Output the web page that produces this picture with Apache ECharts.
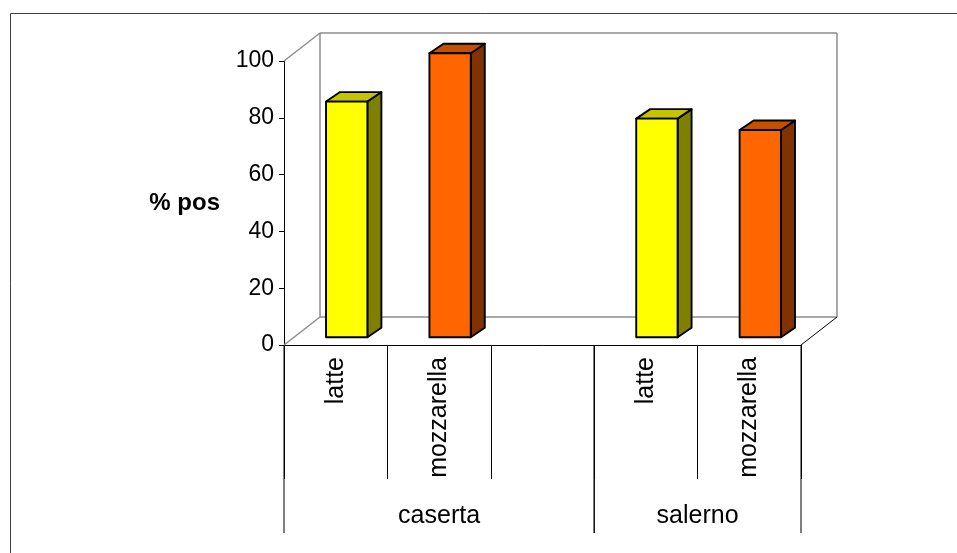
<!DOCTYPE html>
<html>
<head>
<meta charset="utf-8">
<script src="https://cdn.jsdelivr.net/npm/echarts@6/dist/echarts.min.js"></script>
<style>
html,body{margin:0;padding:0;background:#fff;}
#c{width:957px;height:553px;}
</style>
</head>
<body>
<div id="c"></div>
<script>
// ---- data ----
const categories = ['latte', 'mozzarella', '', 'latte', 'mozzarella'];
const values = [83, 100, null, 77, 73];
const groups = ['caserta', 'salerno'];
const groupStart = [0, 3];
const groupEnd = [2, 4];
const yTicks = [0, 20, 40, 60, 80, 100];

// ---- style ----
const FONT = '"Liberation Sans", Arial, sans-serif';
const DX = 36, DY = 28;            // depth of the 3D box
const BOFFX = 11, BOFFY = 7.7;     // bar front-face depth offset
const BDX = 14, BDY = 9.5;         // bar depth
const palette = {
  latte: { front: '#FFFF00', side: '#808000', top: '#C4C400' },
  mozzarella: { front: '#FF6600', side: '#803300', top: '#C45000' }
};

const chart = echarts.init(document.getElementById('c'), null, { renderer: 'canvas' });

const barData = [];
values.forEach((v, i) => { if (v != null) barData.push([i, v]); });

function wallItem(params, api) {
  const bw = api.size([1, 0])[0];
  const left = api.coord([0, 0])[0] - bw / 2;
  const right = api.coord([categories.length - 1, 0])[0] + bw / 2;
  const y0 = api.coord([0, yTicks[0]])[1];
  const y1 = api.coord([0, yTicks[yTicks.length - 1]])[1];
  const gray = { stroke: '#8c8c8c', lineWidth: 1.5, fill: null };
  const L = (x1, ya, x2, yb, st) => ({ type: 'line', shape: { x1: x1, y1: ya, x2: x2, y2: yb }, style: st || gray });
  return {
    type: 'group',
    children: [
      L(left, y1, left + DX, y1 - DY),
      L(left + DX, y1 - DY, right + DX, y1 - DY),
      L(left + DX, y1 - DY, left + DX, y0 - DY),
      L(right + DX, y1 - DY, right + DX, y0 - DY),
      L(left + DX, y0 - DY, right + DX, y0 - DY),
      L(left, y0, left + DX, y0 - DY),
      L(right, y0, right + DX, y0 - DY, { stroke: '#000', lineWidth: 1, fill: null })
    ]
  };
}

function barItem(params, api) {
  const cat = api.value(0), val = api.value(1);
  const base = api.coord([cat, 0]);
  const top = api.coord([cat, val]);
  const w = api.size([1, 0])[0] * 0.4;
  const x0 = base[0] + BOFFX - w / 2, x1 = x0 + w;
  const yb = base[1] - BOFFY, yt = top[1] - BOFFY;
  const col = palette[categories[cat]];
  const edge = { stroke: '#000', lineWidth: 1.9, lineJoin: 'round' };
  return {
    type: 'group',
    children: [
      { type: 'polygon', shape: { points: [[x1, yb], [x1 + BDX, yb - BDY], [x1 + BDX, yt - BDY], [x1, yt]] },
        style: Object.assign({ fill: col.side }, edge) },
      { type: 'polygon', shape: { points: [[x0, yt], [x1, yt], [x1 + BDX, yt - BDY], [x0 + BDX, yt - BDY]] },
        style: Object.assign({ fill: col.top }, edge) },
      { type: 'rect', shape: { x: x0, y: yt, width: w, height: yb - yt },
        style: Object.assign({ fill: col.front }, edge) }
    ]
  };
}

function groupItem(params, api) {
  const g = params.dataIndex;
  const bw = api.size([1, 0])[0];
  const xa = api.coord([groupStart[g], 0])[0] - bw / 2;
  const xb = api.coord([groupEnd[g], 0])[0] + bw / 2;
  const y0 = api.coord([0, 0])[1];
  const ln = { stroke: '#000', lineWidth: 1, fill: null };
  return {
    type: 'group',
    children: [
      { type: 'line', shape: { x1: xa, y1: y0, x2: xa, y2: y0 + 188 }, style: ln },
      { type: 'line', shape: { x1: xb, y1: y0, x2: xb, y2: y0 + 188 }, style: ln },
      { type: 'text', x: (xa + xb) / 2, y: y0 + 171,
        style: { text: groups[g], fill: '#000', font: '25px ' + FONT, align: 'center', verticalAlign: 'middle' } }
    ]
  };
}

chart.setOption({
  animation: false,
  backgroundColor: '#fff',
  graphic: [{
    type: 'rect', left: 8, top: 11, silent: true,
    shape: { x: 0.5, y: 0.5, width: 980, height: 580 },
    style: { fill: null, stroke: '#404040', lineWidth: 1 }
  }],
  grid: { left: 284, right: 156, top: 61, bottom: 208, containLabel: false },
  xAxis: {
    type: 'category',
    data: categories,
    boundaryGap: true,
    axisLine: { show: true, lineStyle: { color: '#000', width: 1 } },
    axisTick: { show: true, interval: 0, length: 134, lineStyle: { color: '#000', width: 1 } },
    axisLabel: { interval: 0, rotate: 90, margin: 12, color: '#000', fontSize: 25, fontFamily: FONT },
    splitLine: { show: false }
  },
  yAxis: {
    type: 'value',
    min: yTicks[0], max: yTicks[yTicks.length - 1], interval: 20,
    name: '% pos',
    nameLocation: 'middle',
    nameRotate: 0,
    nameGap: 64,
    nameTextStyle: { color: '#000', fontSize: 24, fontWeight: 'bold', fontFamily: FONT, padding: [4, 0, 0, 0] },
    axisLine: { show: true, lineStyle: { color: '#000', width: 1 } },
    axisTick: { show: true, length: 5, lineStyle: { color: '#000' } },
    axisLabel: { margin: 10, color: '#000', fontSize: 23, fontFamily: FONT },
    splitLine: { show: false }
  },
  series: [
    { type: 'custom', name: 'walls', clip: false, z: 1, renderItem: wallItem, data: [[0, 0]], encode: { x: 0, y: 1 } },
    { type: 'custom', name: 'bars', clip: false, z: 3, renderItem: barItem, data: barData, encode: { x: 0, y: 1 } },
    { type: 'custom', name: 'groups', clip: false, z: 3, renderItem: groupItem, data: groups.map((g, i) => [i, 0]), encode: { x: 0, y: 1 } }
  ]
});
</script>
</body>
</html>
